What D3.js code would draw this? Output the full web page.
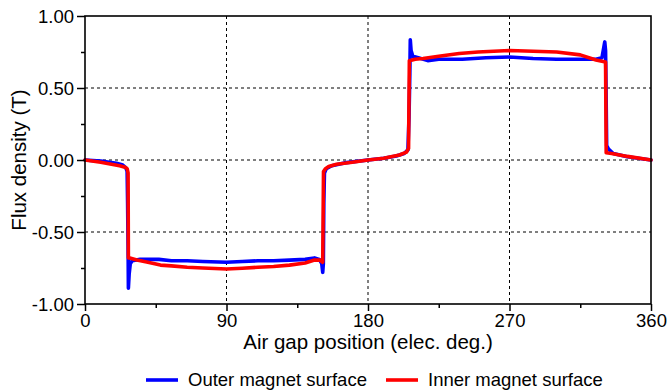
<!DOCTYPE html>
<html>
<head>
<meta charset="utf-8">
<script src="https://cdn.jsdelivr.net/npm/d3@7"></script>
<style>
  html, body { margin: 0; padding: 0; background: #ffffff; }
  svg { display: block; }
  text { font-family: "Liberation Sans", Arial, sans-serif; fill: #000; }
</style>
</head>
<body>
<svg id="chart" width="668" height="392"></svg>
<script>
// Air-gap flux density around one electrical period (degrees, tesla)
const outerSurface = [
  [0, 0.0], [10, -0.008], [20, -0.022], [24, -0.035], [26, -0.055], [26.8, -0.08],
  [27.1, -0.3], [27.4, -0.6], [27.6, -0.89], [28.1, -0.79], [28.8, -0.72], [30, -0.70],
  [35, -0.69], [40, -0.69], [47, -0.69], [55, -0.70], [65, -0.70], [75, -0.705],
  [90, -0.71], [100, -0.705], [110, -0.70], [120, -0.70], [130, -0.695], [140, -0.69],
  [146, -0.68], [149, -0.69], [150.6, -0.72], [151.2, -0.78], [151.6, -0.72],
  [151.9, -0.3], [152.3, -0.09], [153.5, -0.06], [157, -0.04], [165, -0.02], [180, 0.0],
  [190, 0.012], [198, 0.028], [203, 0.045], [205.4, 0.07], [206.1, 0.3], [206.6, 0.6],
  [206.9, 0.835], [207.4, 0.76], [208.5, 0.72], [212, 0.71], [218, 0.69], [225, 0.70],
  [240, 0.70], [255, 0.71], [270, 0.715], [285, 0.705], [300, 0.70], [315, 0.70],
  [325, 0.70], [328.8, 0.71], [330.6, 0.82], [331.1, 0.76], [331.4, 0.5], [331.8, 0.1],
  [333, 0.075], [336, 0.045], [345, 0.022], [360, 0.0]
];

const innerSurface = [
  [0, 0.0], [10, -0.015], [22, -0.04], [25.5, -0.05], [26.8, -0.06], [27.4, -0.09],
  [27.6, -0.68], [28.5, -0.68], [33, -0.695], [40, -0.71], [48, -0.73], [55, -0.735],
  [65, -0.745], [75, -0.75], [90, -0.757], [100, -0.752], [110, -0.745], [120, -0.74],
  [130, -0.73], [140, -0.715], [146, -0.695], [149.5, -0.695], [151.2, -0.71],
  [151.7, -0.08], [153, -0.06], [155, -0.045], [160, -0.03], [170, -0.015], [180, 0.0],
  [190, 0.012], [200, 0.035], [204.5, 0.055], [205.8, 0.08], [206.3, 0.69], [210, 0.70],
  [215, 0.705], [225, 0.72], [238, 0.74], [250, 0.75], [270, 0.76], [285, 0.755],
  [300, 0.75], [315, 0.73], [325, 0.695], [331.1, 0.68], [331.5, 0.05], [335, 0.045],
  [345, 0.025], [360, 0.0]
];

const seriesNames = ["Outer magnet surface", "Inner magnet surface"];
const seriesColors = ["#0000ff", "#ff0000"];

const xTicks = [0, 90, 180, 270, 360];
const xMinorTicks = [45, 135, 225, 315];
const yTicks = [-1.0, -0.5, 0.0, 0.5, 1.0];
const yMinorTicks = [-0.75, -0.25, 0.25, 0.75];
const xGrid = [90, 180, 270];
const yGrid = [-0.5, 0.0, 0.5];

const xTitle = "Air gap position (elec. deg.)";
const yTitle = "Flux density (T)";

// Layout
const plot = { left: 85, right: 651, top: 16, bottom: 304 };
const svg = d3.select("#chart");

const x = d3.scaleLinear().domain([0, 360]).range([plot.left, plot.right]);
const y = d3.scaleLinear().domain([-1, 1]).range([plot.bottom, plot.top]);

const fmtY = v => d3.format(".2f")(v).replace("\u2212", "-");

// Dashed grid
const grid = svg.append("g").attr("stroke", "#000").attr("stroke-width", 1)
  .attr("stroke-dasharray", "3,3");
grid.selectAll("line.gx").data(xGrid).join("line")
  .attr("x1", d => x(d)).attr("x2", d => x(d))
  .attr("y1", plot.top).attr("y2", plot.bottom);
grid.selectAll("line.gy").data(yGrid).join("line")
  .attr("x1", plot.left).attr("x2", plot.right)
  .attr("y1", d => y(d)).attr("y2", d => y(d));

// Series
const line = d3.line().x(d => x(d[0])).y(d => y(d[1]));
[outerSurface, innerSurface].forEach((data, i) => {
  svg.append("path")
    .datum(data)
    .attr("d", line)
    .attr("fill", "none")
    .attr("stroke", seriesColors[i])
    .attr("stroke-width", 3.6)
    .attr("stroke-linejoin", "round")
    .attr("stroke-linecap", "round");
});

// Frame
svg.append("rect")
  .attr("x", plot.left).attr("y", plot.top)
  .attr("width", plot.right - plot.left).attr("height", plot.bottom - plot.top)
  .attr("fill", "none").attr("stroke", "#000").attr("stroke-width", 1.6);

// Axes
const xAxis = svg.append("g")
  .attr("transform", `translate(0,${plot.bottom})`)
  .call(d3.axisBottom(x).tickValues(xTicks).tickSize(7).tickPadding(3)
    .tickFormat(d3.format("d")));
const xMinor = svg.append("g")
  .attr("transform", `translate(0,${plot.bottom})`)
  .call(d3.axisBottom(x).tickValues(xMinorTicks).tickSize(4).tickFormat(""));

const yAxis = svg.append("g")
  .attr("transform", `translate(${plot.left},0)`)
  .call(d3.axisLeft(y).tickValues(yTicks).tickSize(8).tickPadding(3).tickFormat(fmtY));
const yMinor = svg.append("g")
  .attr("transform", `translate(${plot.left},0)`)
  .call(d3.axisLeft(y).tickValues(yMinorTicks).tickSize(4).tickFormat(""));

[xAxis, xMinor, yAxis, yMinor].forEach(g => {
  g.select(".domain").remove();
  g.selectAll(".tick line").attr("stroke", "#000").attr("stroke-width", 1.5);
  g.selectAll(".tick text")
    .style("font-family", "'Liberation Sans', Arial, sans-serif")
    .style("font-size", "18.5px").attr("fill", "#000");
});
yAxis.selectAll(".tick text").attr("dy", "0.36em");

// Axis titles
svg.append("text")
  .attr("x", (plot.left + plot.right) / 2).attr("y", 349)
  .attr("text-anchor", "middle").style("font-size", "20.5px")
  .text(xTitle);
svg.append("text")
  .attr("transform", `translate(26,${(plot.top + plot.bottom) / 2}) rotate(-90)`)
  .attr("text-anchor", "middle").style("font-size", "20.5px")
  .text(yTitle);

// Legend
const legendItems = [
  { x: 146, textX: 188 },
  { x: 386, textX: 428 }
];
const legend = svg.append("g");
seriesNames.forEach((name, i) => {
  legend.append("line")
    .attr("x1", legendItems[i].x).attr("x2", legendItems[i].x + 32)
    .attr("y1", 380).attr("y2", 380)
    .attr("stroke", seriesColors[i]).attr("stroke-width", 3.6);
  legend.append("text")
    .attr("x", legendItems[i].textX).attr("y", 386)
    .style("font-size", "18.5px")
    .text(name);
});
</script>
</body>
</html>
